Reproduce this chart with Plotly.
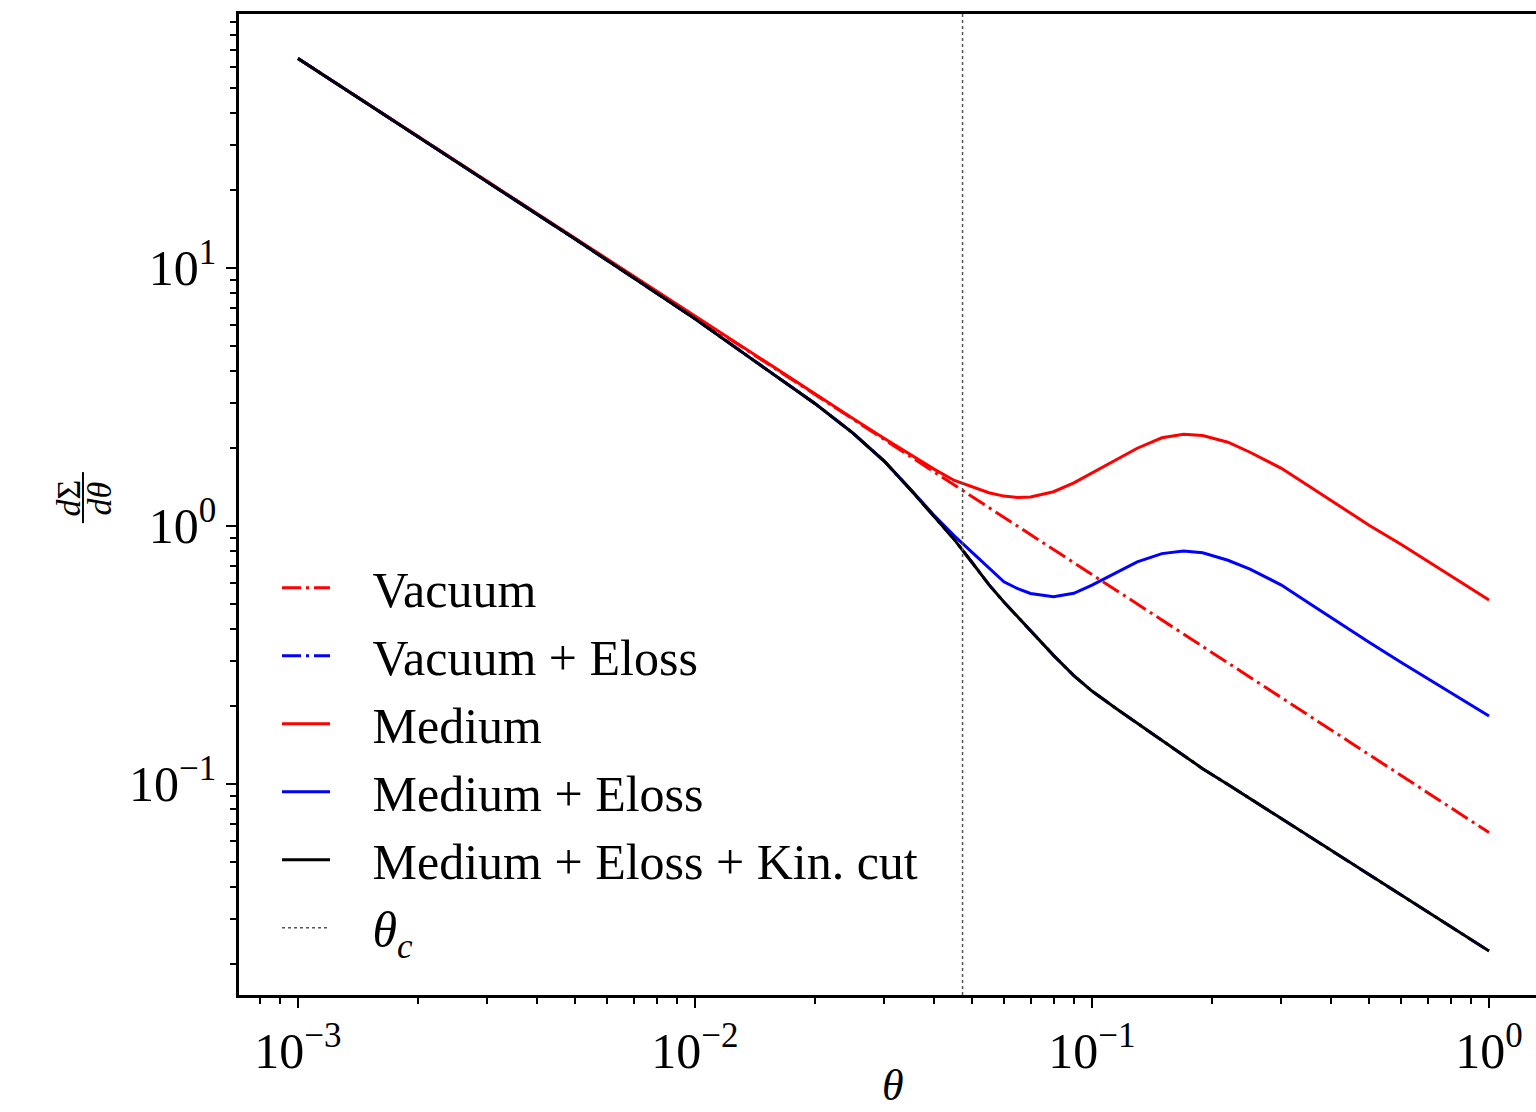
import plotly.graph_objects as go

# ---- data ----
theta = [0.001, 0.002, 0.003, 0.005, 0.007, 0.01, 0.014, 0.02, 0.025, 0.03,
         0.035, 0.04, 0.045, 0.05, 0.055, 0.06, 0.065, 0.07, 0.08, 0.09,
         0.1, 0.115, 0.13, 0.15, 0.17, 0.19, 0.22, 0.25, 0.3, 0.35,
         0.4, 0.5, 0.6, 0.7, 0.8, 1.0]

vacuum = [64.8, 32.4, 21.6, 12.96, 9.26, 6.48, 4.63, 3.24, 2.59, 2.16,
          1.851, 1.62, 1.44, 1.296, 1.178, 1.08, 0.997, 0.926, 0.81, 0.72,
          0.648, 0.5635, 0.4985, 0.432, 0.381, 0.341, 0.2945, 0.259, 0.216, 0.185,
          0.162, 0.1296, 0.108, 0.0926, 0.081, 0.0648]

kin_cut = [64.8, 32.4, 21.5, 12.9, 9.15, 6.35, 4.40, 2.99, 2.29, 1.78,
           1.376, 1.09, 0.885, 0.718, 0.592, 0.507, 0.443, 0.391, 0.315, 0.263,
           0.229, 0.196, 0.172, 0.148, 0.1294, 0.1146, 0.0995, 0.0878, 0.0735, 0.0632,
           0.0554, 0.0445, 0.0372, 0.0320, 0.0281, 0.0225]

vacuum_eloss = kin_cut[:]  # hidden underneath the black curve

medium = [64.8, 32.4, 21.6, 13.0, 9.27, 6.49, 4.64, 3.25, 2.61, 2.18,
          1.88, 1.66, 1.50, 1.414, 1.345, 1.305, 1.29, 1.295, 1.357, 1.468,
          1.605, 1.81, 2.00, 2.195, 2.265, 2.24, 2.11, 1.93, 1.672, 1.435,
          1.255, 1.004, 0.849, 0.732, 0.642, 0.516]

medium_eloss = [64.8, 32.4, 21.5, 12.9, 9.15, 6.35, 4.40, 2.99, 2.29, 1.78,
                1.38, 1.10, 0.915, 0.789, 0.685, 0.607, 0.571, 0.547, 0.532, 0.548,
                0.590, 0.658, 0.726, 0.781, 0.799, 0.787, 0.736, 0.680, 0.590, 0.505,
                0.441, 0.353, 0.2965, 0.2565, 0.226, 0.1835]

theta_c = 0.0472

x_tickvals = [0.001, 0.01, 0.1, 1]
x_ticktext = ["10<sup>−3</sup>", "10<sup>−2</sup>", "10<sup>−1</sup>", "10<sup>0</sup>"]
y_tickvals = [0.1, 1, 10]
y_ticktext = ["10<sup>−1</sup>", "10<sup>0</sup>", "10<sup>1</sup>"]

names = ["Vacuum", "Vacuum + Eloss", "Medium", "Medium + Eloss",
         "Medium + Eloss + Kin. cut", "<i>θ</i><sub><i>c</i></sub>"]

FONT = "Liberation Serif"
DASHDOT = "19px,5px,3px,5px"
GAP = "\u00a0\u00a0\u00a0"

fig = go.Figure()
series = [
    (vacuum, names[0], "#ff0000", DASHDOT),
    (vacuum_eloss, names[1], "#0000ff", DASHDOT),
    (medium, names[2], "#ff0000", "solid"),
    (medium_eloss, names[3], "#0000ff", "solid"),
    (kin_cut, names[4], "#000000", "solid"),
]
for i, (ys, nm, col, dash) in enumerate(series):
    fig.add_trace(go.Scatter(x=theta, y=ys, mode="lines", name=GAP + nm,
                             legendgroup=f"g{i}",
                             line=dict(color=col, width=3, dash=dash)))

# theta_c vertical line
fig.add_vline(x=theta_c, line=dict(color="#555555", width=1.5, dash="dot"))
fig.add_trace(go.Scatter(x=[None], y=[None], mode="lines", name=GAP + names[5],
                         legendgroup="g5",
                         line=dict(color="#555555", width=1.5, dash="dot")))

axis_common = dict(
    type="log", showgrid=False, zeroline=False, automargin=False,
    showline=True, linecolor="black", linewidth=2.5,
    ticks="outside", ticklen=10, tickwidth=2, tickcolor="black",
    tickfont=dict(family=FONT, size=50, color="black"),
    minor=dict(ticks="outside", ticklen=6, tickwidth=1.6, tickcolor="black",
               dtick="D1", showgrid=False),
)

fig.update_xaxes(**axis_common, range=[-3.1486, 0.1184], mirror=True,
                 tickmode="array", tickvals=x_tickvals, ticktext=x_ticktext)
fig.update_yaxes(**axis_common, range=[-1.818, 1.984],
                 tickmode="array", tickvals=y_tickvals, ticktext=y_ticktext)

# x-axis label
fig.add_annotation(xref="paper", yref="paper", x=0.504, y=-0.1193,
                   xanchor="center", yanchor="bottom", showarrow=False,
                   text="<i>θ</i>", font=dict(family=FONT, size=44, color="black"))

# y-axis label as a rotated fraction dΣ/dθ
lab_font = dict(family=FONT, size=34, color="black")
fig.add_annotation(xref="paper", yref="paper", x=0, y=0.5, xshift=-171, yshift=6,
                   xanchor="center", yanchor="middle",
                   text="<i>d</i>Σ", textangle=-90, showarrow=False, font=lab_font)
fig.add_annotation(xref="paper", yref="paper", x=0, y=0.5, xshift=-140, yshift=6,
                   xanchor="center", yanchor="middle",
                   text="<i>dθ</i>", textangle=-90, showarrow=False, font=lab_font)
fig.add_shape(type="line", xref="paper", yref="paper",
              x0=-0.1203, x1=-0.1203, y0=0.481, y1=0.533,
              line=dict(color="black", width=2))

fig.update_layout(
    width=1536, height=1112,
    margin=dict(l=239, r=0, t=14, b=117),
    paper_bgcolor="white", plot_bgcolor="white",
    showlegend=True,
    legend=dict(x=0.0293, y=0.455, xanchor="left", yanchor="top",
                bgcolor="rgba(0,0,0,0)", borderwidth=0,
                font=dict(family=FONT, size=50, color="black"),
                tracegroupgap=0, itemwidth=48),
)

fig.write_html("out.html")
